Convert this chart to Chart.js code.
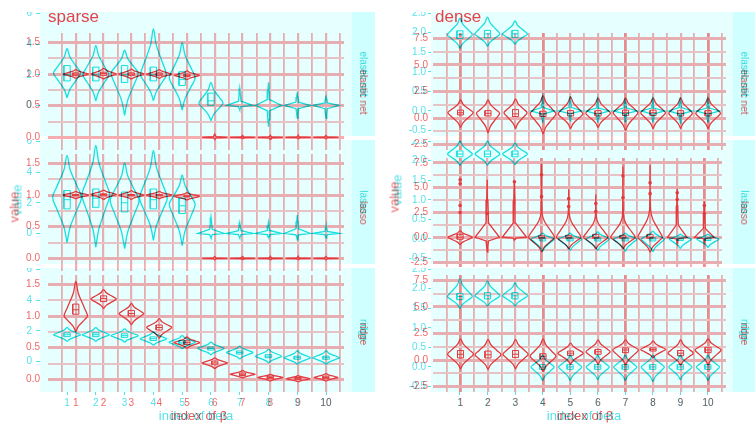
<!DOCTYPE html>
<html>
<head>
<meta charset="utf-8">
<script src="https://cdn.jsdelivr.net/npm/chart.js@4.4.1/dist/chart.umd.min.js"></script>
<style>
  body { margin: 0; background: #fff; width: 755px; height: 426px; overflow: hidden; position: relative;
         font-family: "Liberation Sans", Arial, sans-serif; }
  canvas, .bg, .t { position: absolute; }
  .t { white-space: nowrap; line-height: 1; }
</style>
</head>
<body>
<script>
// categories (index of beta)
const cats = [1, 2, 3, 4, 5, 6, 7, 8, 9, 10];

// tick values
const redXGrid = [0.5, 1, 1.5, 2, 2.5, 3, 3.5, 4, 4.5, 5, 5.5, 6, 6.5, 7, 7.5, 8, 8.5, 9, 9.5, 10, 10.5];
const cyanXTicks = [1, 2, 3, 4, 5, 6, 7, 8, 9, 10];
const denseHeavyX = [1, 4, 7, 10];
const redSparseYGrid = [0, 0.25, 0.5, 0.75, 1, 1.25, 1.5];
const redSparseYMajor = [0, 0.5, 1, 1.5];
const redDenseYGrid = [-2.5, -1.25, 0, 1.25, 2.5, 3.75, 5, 6.25, 7.5];
const redDenseYMajor = [-2.5, 0, 2.5, 5, 7.5];
const cyanSparseYTicks = [0, 2, 4, 6];
const cyanDenseYTicks = [-0.5, 0, 0.5, 1, 1.5, 2, 2.5];

const methods = ['elastic net', 'lasso', 'ridge'];

// violins, one row per index: lo, widest, hi, half width, q1, median, q3, (neck)
const redSparseEnet = [
  [0.93, 1.00, 1.07, 0.46, 0.98, 1.00, 1.02],
  [0.92, 1.00, 1.09, 0.46, 0.98, 1.01, 1.03],
  [0.92, 1.00, 1.08, 0.46, 0.98, 1.00, 1.02],
  [0.93, 1.00, 1.07, 0.46, 0.98, 1.00, 1.02],
  [0.91, 0.98, 1.05, 0.46, 0.96, 0.98, 1.00],
  [-0.03, 0, 0.05, 0.45, 0, 0, 0],
  [-0.02, 0, 0.03, 0.45, 0, 0, 0],
  [-0.03, 0, 0.03, 0.45, 0, 0, 0],
  [-0.02, 0, 0.03, 0.45, 0, 0, 0],
  [-0.02, 0, 0.03, 0.45, 0, 0, 0]
];
const redSparseLasso = [
  [0.94, 1.00, 1.06, 0.46, 0.99, 1.00, 1.01],
  [0.93, 1.01, 1.08, 0.46, 0.99, 1.01, 1.02],
  [0.93, 1.00, 1.07, 0.46, 0.99, 1.00, 1.01],
  [0.94, 1.00, 1.06, 0.46, 0.99, 1.00, 1.01],
  [0.92, 0.98, 1.04, 0.46, 0.97, 0.98, 0.99],
  [-0.02, 0, 0.03, 0.45, 0, 0, 0],
  [-0.02, 0, 0.03, 0.45, 0, 0, 0],
  [-0.02, 0, 0.03, 0.45, 0, 0, 0],
  [-0.02, 0, 0.03, 0.45, 0, 0, 0],
  [-0.02, 0, 0.03, 0.45, 0, 0, 0]
];
const redSparseRidge = [
  [0.75, 1.00, 1.55, 0.42, 1.03, 1.10, 1.19],
  [1.12, 1.27, 1.42, 0.46, 1.23, 1.28, 1.32],
  [0.86, 1.04, 1.20, 0.44, 1.00, 1.04, 1.09],
  [0.65, 0.82, 0.96, 0.45, 0.78, 0.82, 0.86],
  [0.49, 0.58, 0.67, 0.46, 0.55, 0.58, 0.61],
  [0.17, 0.26, 0.34, 0.46, 0.23, 0.26, 0.29],
  [0.02, 0.08, 0.14, 0.45, 0.06, 0.08, 0.10],
  [-0.03, 0.03, 0.08, 0.45, 0.01, 0.03, 0.05],
  [-0.04, 0.01, 0.06, 0.42, 0.00, 0.01, 0.03],
  [-0.03, 0.03, 0.09, 0.43, 0.01, 0.03, 0.05]
];
const cyanSparseEnet = [
  [0.5, 2.1, 3.7, 0.47, 1.6, 2.0, 2.6],
  [0.3, 2.0, 3.9, 0.45, 1.6, 2.0, 2.5],
  [-0.65, 2.1, 3.6, 0.47, 1.5, 2.0, 2.6],
  [0.3, 2.0, 5.0, 0.45, 1.6, 2.0, 2.5],
  [-0.3, 1.8, 4.1, 0.45, 1.3, 1.7, 2.2],
  [-1.0, 0.15, 1.5, 0.42, 0.0, 0.3, 0.8],
  [-0.3, 0, 1.1, 0.45, 0, 0, 0],
  [-1.4, 0, 1.5, 0.45, 0, 0, 0],
  [-0.85, 0, 0.85, 0.45, 0, 0, 0],
  [-0.85, 0, 0.65, 0.45, 0, 0, 0]
];
const cyanSparseLasso = [
  [-0.6, 2.35, 5.1, 0.5, 1.6, 2.2, 2.8],
  [-0.9, 2.5, 5.75, 0.48, 1.7, 2.3, 2.9],
  [-1.0, 2.15, 4.6, 0.5, 1.4, 2.0, 2.7],
  [-0.45, 2.3, 5.4, 0.48, 1.6, 2.2, 2.9],
  [-0.8, 1.9, 3.8, 0.45, 1.3, 1.8, 2.3],
  [-0.3, 0, 1.05, 0.45, 0, 0, 0],
  [-0.3, 0, 0.7, 0.45, 0, 0, 0],
  [-0.3, 0, 0.75, 0.45, 0, 0, 0],
  [-0.4, 0, 1.2, 0.45, 0, 0, 0],
  [-0.3, 0, 0.5, 0.45, 0, 0, 0]
];
const cyanSparseRidge = [
  [1.3, 1.74, 2.2, 0.47, 1.62, 1.74, 1.86],
  [1.3, 1.74, 2.2, 0.47, 1.62, 1.74, 1.86],
  [1.25, 1.68, 2.12, 0.47, 1.57, 1.68, 1.80],
  [1.05, 1.48, 1.92, 0.46, 1.37, 1.48, 1.60],
  [0.82, 1.25, 1.68, 0.46, 1.14, 1.25, 1.36],
  [0.42, 0.84, 1.26, 0.46, 0.74, 0.84, 0.94],
  [0.15, 0.58, 1.0, 0.46, 0.48, 0.58, 0.68],
  [-0.1, 0.34, 0.78, 0.46, 0.24, 0.34, 0.44],
  [-0.2, 0.24, 0.68, 0.46, 0.14, 0.24, 0.34],
  [-0.2, 0.24, 0.68, 0.46, 0.14, 0.24, 0.34]
];
const redDenseEnet = [
  [-0.9, 0.5, 1.7, 0.46, 0.3, 0.5, 0.75],
  [-1.4, 0.45, 1.7, 0.42, 0.2, 0.45, 0.7],
  [-1.0, 0.5, 1.8, 0.42, 0.15, 0.4, 0.8],
  [-1.5, 0.4, 2.1, 0.47, 0.15, 0.4, 0.65],
  [-1.0, 0.4, 2.0, 0.45, 0.2, 0.45, 0.7],
  [-0.9, 0.45, 1.9, 0.45, 0.2, 0.45, 0.7],
  [-1.2, 0.5, 1.9, 0.45, 0.25, 0.5, 0.75],
  [-1.0, 0.5, 1.9, 0.45, 0.25, 0.5, 0.75],
  [-1.0, 0.45, 1.9, 0.43, 0.2, 0.45, 0.7],
  [-1.0, 0.45, 1.9, 0.45, 0.2, 0.45, 0.7]
];
const redDenseLasso = [
  [-0.75, 0, 0.65, 0.45, -0.2, 0, 0.3],
  [-1.5, 0, 5.8, 0.45, 0, 0, 0],
  [-0.3, 0, 5.7, 0.45, 0, 0, 0],
  [-1.5, 0, 7.4, 0.48, -0.1, 0, 0.15, 2.5],
  [-1.2, 0, 4.8, 0.45, -0.1, 0, 0.2, 2.4],
  [-1.2, 0, 4.3, 0.45, -0.1, 0, 0.3, 2.1],
  [-1.2, 0, 7.1, 0.45, -0.1, 0, 0.2, 2.2],
  [-1.5, 0, 7.3, 0.45, -0.1, 0, 0.3, 2.8],
  [-0.6, 0, 4.9, 0.36, 0, 0, 0],
  [-0.5, 0, 3.6, 0.36, 0, 0, 0]
];
const redDenseLassoDots = [
  [1, 5.8], [1, 5.4], [1, 3.2], [1, 2.5], [2, 2.4], [3, 5.6], [4, 6.3], [4, 4.1],
  [5, 3.9], [5, 3.1], [6, 3.4], [6, 2.6], [7, 6.2], [7, 4.0], [8, 5.5], [8, 4.4],
  [9, 4.5], [9, 3.8], [10, 3.2], [10, 2.4]
];
const redDenseRidge = [
  [-0.85, 0.55, 2.0, 0.47, 0.2, 0.55, 0.9],
  [-0.9, 0.5, 1.95, 0.47, 0.2, 0.5, 0.85],
  [-0.85, 0.55, 1.95, 0.46, 0.25, 0.55, 0.9],
  [-1.1, 0.35, 2.0, 0.47, 0.1, 0.35, 0.6],
  [-0.4, 0.65, 1.6, 0.46, 0.45, 0.65, 0.85],
  [-0.4, 0.78, 1.9, 0.44, 0.55, 0.78, 1.0],
  [-0.5, 0.95, 1.9, 0.47, 0.7, 0.95, 1.15],
  [0.2, 1.0, 1.8, 0.45, 0.85, 1.0, 1.15],
  [-0.5, 0.65, 1.9, 0.46, 0.4, 0.65, 0.9],
  [-0.5, 0.95, 2.0, 0.47, 0.7, 0.95, 1.2]
];
const cyanDenseEnet = [
  [1.6, 1.95, 2.37, 0.45, 1.85, 1.95, 2.05],
  [1.65, 1.97, 2.4, 0.45, 1.87, 1.97, 2.06],
  [1.7, 1.97, 2.3, 0.45, 1.88, 1.97, 2.06],
  [-0.3, 0, 0.35, 0.42, 0, 0, 0],
  [-0.25, 0, 0.38, 0.42, 0, 0, 0],
  [-0.3, 0, 0.3, 0.42, 0, 0, 0],
  [-0.28, 0, 0.32, 0.42, 0, 0, 0],
  [-0.3, 0, 0.3, 0.42, 0, 0, 0],
  [-0.32, 0, 0.35, 0.42, 0, 0, 0],
  [-0.3, 0, 0.3, 0.42, 0, 0, 0]
];
const cyanDenseLasso = [
  [1.88, 2.17, 2.5, 0.45, 2.1, 2.17, 2.25],
  [1.88, 2.17, 2.5, 0.45, 2.1, 2.17, 2.25],
  [1.9, 2.17, 2.45, 0.45, 2.1, 2.17, 2.25],
  [-0.32, 0, 0.15, 0.42, -0.05, 0, 0.03],
  [-0.3, 0, 0.15, 0.42, -0.05, 0, 0.03],
  [-0.3, 0, 0.18, 0.42, -0.05, 0, 0.03],
  [-0.32, 0, 0.15, 0.42, -0.05, 0, 0.03],
  [-0.33, 0, 0.2, 0.42, -0.05, 0, 0.03],
  [-0.25, 0, 0.12, 0.4, -0.04, 0, 0.03],
  [-0.22, 0, 0.12, 0.4, -0.04, 0, 0.03]
];
const cyanDenseRidge = [
  [1.5, 1.8, 2.25, 0.45, 1.72, 1.8, 1.88],
  [1.55, 1.82, 2.2, 0.45, 1.74, 1.82, 1.9],
  [1.55, 1.82, 2.15, 0.45, 1.74, 1.82, 1.9],
  [-0.35, 0, 0.3, 0.42, -0.06, 0, 0.06],
  [-0.35, 0, 0.3, 0.42, -0.06, 0, 0.06],
  [-0.33, 0, 0.3, 0.42, -0.06, 0, 0.06],
  [-0.35, 0, 0.3, 0.42, -0.06, 0, 0.06],
  [-0.38, 0, 0.3, 0.42, -0.06, 0, 0.06],
  [-0.33, 0, 0.3, 0.42, -0.06, 0, 0.06],
  [-0.35, 0, 0.3, 0.42, -0.06, 0, 0.06]
];

// look
const FONT = '"Liberation Sans", Arial, sans-serif';
const RED = '#e23a3e', CYAN = '#18dede';
const RED_TXT = '#ee6868', CYAN_TXT = '#55e2ea';
const GRID_MAJOR = '#f4aeb0', GRID_MINOR = '#f7c4c6', GRID_HEAVY = '#ee8c8e';
const BLEND = 'darken';

function addCanvas(left, top, w, h, blend) {
  const c = document.createElement('canvas');
  c.width = w; c.height = h;
  c.style.left = left + 'px'; c.style.top = top + 'px';
  c.style.width = w + 'px'; c.style.height = h + 'px';
  if (blend) c.style.mixBlendMode = BLEND;
  document.body.appendChild(c);
  return c;
}

function addBox(left, top, w, h, color) {
  const d = document.createElement('div');
  d.className = 'bg';
  Object.assign(d.style, { left: left + 'px', top: top + 'px', width: w + 'px', height: h + 'px', background: color });
  document.body.appendChild(d);
}

function addText(str, x, y, size, color, rot, blend, anchorLeft) {
  const d = document.createElement('div');
  d.className = 't';
  d.textContent = str;
  d.style.left = x + 'px'; d.style.top = y + 'px';
  d.style.fontSize = size + 'px';
  d.style.color = color;
  if (!anchorLeft) d.style.transform = 'translate(-50%,-50%) rotate(' + rot + 'deg)';
  if (blend) d.style.mixBlendMode = BLEND;
  document.body.appendChild(d);
}

// outline of one violin, right side up then left side down
function violinOutline(c, v) {
  const [lo, mid, hi, half, q1, , q3, neck] = v;
  const top = neck === undefined ? hi : neck;
  const prof = q1 === q3 ? [0.05, 0.1] : [0.22, 0.72];
  const right = [
    [lo, 0],
    [lo + 0.35 * (mid - lo), prof[0]],
    [lo + 0.75 * (mid - lo), prof[1]],
    [mid, 1],
    [mid + 0.25 * (top - mid), prof[1]],
    [mid + 0.65 * (top - mid), prof[0]],
    [top, neck === undefined ? 0 : 0.04]
  ];
  if (neck !== undefined) right.push([hi, 0]);
  const pts = right.map(([y, w]) => ({ x: c + w * half, y }));
  const left = right.slice(0, -1).reverse().map(([y, w]) => ({ x: c - w * half, y }));
  return pts.concat(left);
}

function buildSets(rows, dots, color) {
  const smooth = [], sharp = [], boxes = [];
  rows.forEach((v, i) => {
    const c = cats[i];
    const target = v[4] === v[6] ? sharp : smooth;
    if (target.length) target.push({ x: c, y: null });
    target.push(...violinOutline(c, v));
    if (v[4] !== v[6]) {
      const w = 0.11;
      if (boxes.length) boxes.push({ x: c, y: null });
      boxes.push({ x: c - w, y: v[4] }, { x: c + w, y: v[4] }, { x: c + w, y: v[6] }, { x: c - w, y: v[6] },
                 { x: c - w, y: v[4] }, { x: c, y: null }, { x: c - w, y: v[5] }, { x: c + w, y: v[5] });
    }
  });
  const base = { showLine: true, pointRadius: 0, borderColor: color, borderWidth: 1.3, fill: false, spanGaps: false };
  const sets = [
    Object.assign({}, base, { data: smooth, tension: 0.35 }),
    Object.assign({}, base, { data: sharp, tension: 0 }),
    Object.assign({}, base, { data: boxes, tension: 0, borderWidth: 1 })
  ];
  if (dots) {
    sets.push({ data: dots.map(d => ({ x: d[0], y: d[1] })), showLine: false, pointRadius: 1.8,
                pointBackgroundColor: color, pointBorderWidth: 0 });
  }
  return sets;
}

function makeFacet(p) {
  const cv = addCanvas(p.left - p.axisW, p.top, p.width + p.axisW, p.height + p.axisH, p.red);
  const color = p.red ? RED : CYAN;
  const txt = p.red ? RED_TXT : CYAN_TXT;
  const font = { family: FONT, size: 10 };
  const heavy = v => p.heavyX && p.heavyX.includes(v);
  const xGrid = p.red ? {
    color: ctx => heavy(ctx.tick.value) ? GRID_HEAVY : GRID_MAJOR,
    lineWidth: ctx => heavy(ctx.tick.value) ? 2.8 : (Number.isInteger(ctx.tick.value) ? 2.2 : 1.8),
    drawTicks: false
  } : { drawOnChartArea: false, color: CYAN_TXT, lineWidth: 1, drawTicks: true, tickLength: 3 };
  const yGrid = p.red ? {
    color: ctx => p.yMajor.includes(ctx.tick.value) ? GRID_MAJOR : GRID_MINOR,
    lineWidth: ctx => p.yMajor.includes(ctx.tick.value) ? 3 : 2,
    drawTicks: false
  } : { drawOnChartArea: false, color: CYAN_TXT, lineWidth: 1, drawTicks: true, tickLength: p.yTickLen };
  return new Chart(cv, {
    type: 'scatter',
    data: { datasets: buildSets(p.rows, p.dots, color) },
    options: {
      responsive: false, animation: false, events: [],
      layout: { padding: 0 },
      plugins: { legend: { display: false }, tooltip: { enabled: false } },
      scales: {
        x: {
          type: 'linear', min: p.x[0], max: p.x[1],
          afterBuildTicks: s => { s.ticks = p.xTicks.map(value => ({ value })); },
          afterFit: s => { s.height = p.axisH; s.paddingLeft = 0; s.paddingRight = 0; },
          ticks: { display: p.axisH > 0, autoSkip: false, maxRotation: 0, minRotation: 0,
                   padding: p.red ? 5 : 2, color: txt, font,
                   callback: v => Number.isInteger(v) ? String(v) : '' },
          grid: xGrid,
          border: { display: false }
        },
        y: {
          type: 'linear', min: p.y[0], max: p.y[1],
          afterBuildTicks: s => { s.ticks = p.yTicks.map(value => ({ value })); },
          afterFit: s => { s.width = p.axisW; s.paddingTop = 0; s.paddingBottom = 0; },
          ticks: { autoSkip: false, padding: p.yPad, color: txt, font,
                   callback: v => p.yMajor.includes(v) ? p.fmt(v) : '' },
          grid: yGrid,
          border: { display: false }
        }
      }
    }
  });
}

// ---------- cyan layer ----------
const cyanCols = [
  { left: 40, width: 312, axisW: 40, x: [0.06, 10.9], y: [-2.0, 6.1], yTicks: cyanSparseYTicks,
    fmt: v => String(v), yPad: 4, yTickLen: 4, rows: [cyanSparseEnet, cyanSparseLasso, cyanSparseRidge], strip: 352 },
  { left: 431, width: 302, axisW: 51, x: [-0.05, 10.91], y: [-0.64, 2.53], yTicks: cyanDenseYTicks,
    fmt: v => v.toFixed(1), yPad: 2, yTickLen: 3, rows: [cyanDenseEnet, cyanDenseLasso, cyanDenseRidge], strip: 733 }
];
const cyanTops = [12, 140, 268], cyanH = 124;

cyanCols.forEach(col => {
  cyanTops.forEach(top => {
    addBox(col.left, top, col.width, cyanH, '#e6ffff');
    addBox(col.strip, top, Math.min(23, 755 - col.strip), cyanH, '#d0ffff');
  });
});
cyanCols.forEach(col => {
  cyanTops.forEach((top, r) => {
    makeFacet({ red: false, left: col.left, top, width: col.width, height: cyanH, axisW: col.axisW,
                axisH: r === 2 ? 20 : 0, x: col.x, y: col.y, xTicks: cyanXTicks, yTicks: col.yTicks,
                yMajor: col.yTicks, fmt: col.fmt, yPad: col.yPad, yTickLen: col.yTickLen, rows: col.rows[r] });
    addText(methods[r], col.strip + 11, top + cyanH / 2, 10, '#30dede', 90, false);
  });
});
addText('value', 17, 200, 13, CYAN_TXT, -90, false);
addText('value', 397, 190, 13, CYAN_TXT, -90, false);
addText('index of beta', 196, 415, 13, CYAN_TXT, 0, false);
addText('index of beta', 584, 415, 13, CYAN_TXT, 0, false);

// ---------- red layer ----------
const redCols = [
  { left: 48, width: 296, axisW: 48, y: [-0.2, 1.65], yTicks: redSparseYGrid, yMajor: redSparseYMajor,
    yPad: 8, rows: [redSparseEnet, redSparseLasso, redSparseRidge], dots: [null, null, null], strip: 352 },
  { left: 433, width: 293, axisW: 53, y: [-3.0, 8.0], yTicks: redDenseYGrid, yMajor: redDenseYMajor,
    yPad: 5, rows: [redDenseEnet, redDenseLasso, redDenseRidge], dots: [null, redDenseLassoDots, null],
    heavyX: denseHeavyX, strip: 733 }
];
const redTops = [33, 154, 275], redH = 117;

redCols.forEach(col => {
  redTops.forEach((top, r) => {
    makeFacet({ red: true, left: col.left, top, width: col.width, height: redH, axisW: col.axisW,
                axisH: r === 2 ? 20 : 0, x: [0, 10.65], y: col.y, xTicks: redXGrid, yTicks: col.yTicks,
                yMajor: col.yMajor, fmt: v => v.toFixed(1), yPad: col.yPad, rows: col.rows[r],
                dots: col.dots[r], heavyX: col.heavyX });
    addText(methods[r], col.strip + 11, top + redH / 2, 10, '#d85454', 90, true);
  });
});
addText('sparse', 48, 8, 17, '#e8424a', 0, true, true);
addText('dense', 435, 8, 17, '#e8424a', 0, true, true);
addText('value', 14, 207, 13, RED_TXT, -90, true);
addText('value', 394, 197, 13, RED_TXT, -90, true);
addText('index of \u03b2', 199, 415, 13, '#e85a5a', 0, true);
addText('index of \u03b2', 585, 415, 13, '#e85a5a', 0, true);
</script>
</body>
</html>
